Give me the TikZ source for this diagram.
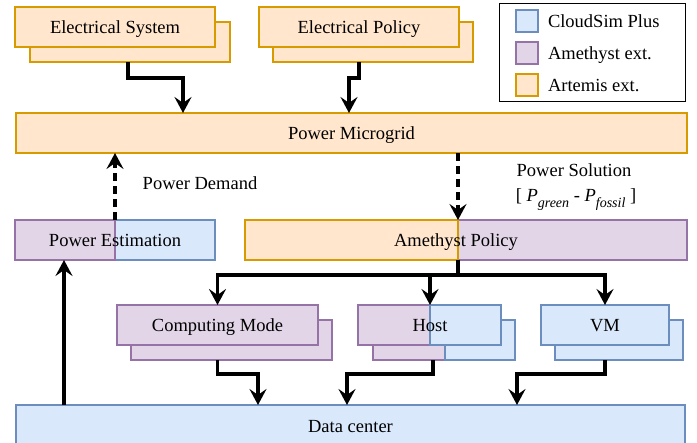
\documentclass[tikz,border=0pt]{standalone}
\usepackage{fontspec}
\setmainfont{Liberation Serif}
\usetikzlibrary{arrows.meta}
\definecolor{bluef}{HTML}{DAE8FC}
\definecolor{blued}{HTML}{6C8EBF}
\definecolor{purf}{HTML}{E1D5E7}
\definecolor{purd}{HTML}{9673A6}
\definecolor{orf}{HTML}{FFE6CC}
\definecolor{ord}{HTML}{D79B00}
\newcommand{\mysub}[1]{\raisebox{-6pt}{\fontsize{14}{16}\selectfont\textit{#1}}}
\begin{document}
\begin{tikzpicture}[x=1pt,y=-1pt,font=\fontsize{18.5}{22}\selectfont,
  box/.style={rectangle,inner sep=0pt,outer sep=0pt,line width=1.2pt,minimum height=40pt,text height=14pt,text depth=0pt},
  bl/.style={box,fill=bluef,draw=blued},
  pu/.style={box,fill=purf,draw=purd},
  orb/.style={box,fill=orf,draw=ord},
  lbl/.style={inner sep=0pt,outer sep=0pt,text height=14pt,text depth=0pt},
  arr/.style={line width=3.2pt,-{Stealth[length=16pt,width=17pt,inset=6pt]}},
  darr/.style={arr,dash pattern=on 8pt off 5pt}]
\useasboundingbox (0,0) rectangle (697,443);
% top boxes
\node[orb,minimum width=200pt] (esb) at (130,42) {};
\node[orb,minimum width=200pt] (es) at (115,27) {Electrical System};
\node[orb,minimum width=200pt] (epb) at (373,42) {};
\node[orb,minimum width=200pt] (ep) at (359,27) {Electrical Policy};
\node[orb,minimum width=671pt] (pm) at (351.5,133) {Power Microgrid};
% legend
\node[draw,line width=1pt,inner sep=0pt,minimum width=186pt,minimum height=98pt] (leg) at (592,53) {};
\node[bl,minimum width=22pt,minimum height=22pt] (sw1) at (527,21) {};
\node[pu,minimum width=22pt,minimum height=22pt] (sw2) at (527,53) {};
\node[orb,minimum width=22pt,minimum height=22pt] (sw3) at (527,85) {};
\node[lbl,anchor=west] (t1) at (548,21) {CloudSim Plus};
\node[lbl,anchor=west] (t2) at (548,53) {Amethyst ext.};
\node[lbl,anchor=west] (t3) at (548,85) {Artemis ext.};
% power estimation
\node[bl,minimum width=100pt] (pe2) at (165,240) {};
\node[pu,minimum width=100pt] (pe1) at (65,240) {};
\node[lbl] (pe) at (115,240) {Power Estimation};
% amethyst policy
\node[pu,minimum width=229pt] (ap2) at (572.5,240) {};
\node[orb,minimum width=213pt] (ap1) at (351.5,240) {};
\node[lbl] (ap) at (456,240) {Amethyst Policy};
% labels
\node[lbl] (pd) at (200,183) {Power Demand};
\node[lbl] (ps) at (574,170) {Power Solution};
\node[lbl,anchor=base] (psf) at (576,202) {[ \textit{P}\mysub{green} - \textit{P}\mysub{fossil} ]};
% computing mode
\node[pu,minimum width=201pt] (cmb) at (231.5,340) {};
\node[pu,minimum width=201pt] (cm) at (217.5,325) {Computing Mode};
% host
\node[pu,minimum width=72pt] (hostbp) at (409,340) {};
\node[bl,minimum width=70pt] (hostbb) at (480,340) {};
\node[pu,minimum width=72pt] (hostp) at (394,325) {};
\node[bl,minimum width=71pt] (hostf) at (465.5,325) {};
\node[lbl] (host) at (430,325) {Host};
% vm
\node[bl,minimum width=128pt] (vmb) at (619,340) {};
\node[bl,minimum width=128pt] (vm) at (605,325) {VM};
% data center
\node[bl,minimum width=669pt,minimum height=42pt] (dc) at (350.5,426) {Data center};
% connectors
\draw[arr] ([xshift=-2pt]esb.south) -- ++(0,16) -| ([xshift=167pt]pm.north west);
\draw[arr] (ep |- epb.south) -- ++(0,16) -| ([xshift=333pt]pm.north west);
\draw[darr] (pe1.north east) -- (pe1.north east |- pm.south);
\draw[darr] (pm.south -| ap1.east) -- (ap1.north east);
\draw[arr] (ap1.south east) -- ++(0,15) -| (cm.north);
\draw[arr] (ap1.south east) -- ++(0,15) -| (hostp.north east);
\draw[arr] (ap1.south east) -- ++(0,15) -| (vm.north);
\coordinate (pein) at ([xshift=-1pt]pe1.south);
\draw[arr] (dc.north -| pein) -- (pein);
\draw[arr] (cm |- cmb.south) -- ++(0,14) -| ([xshift=242pt]dc.north west);
\draw[arr] ([xshift=3pt]hostp.south east |- hostbb.south) -- ++(0,14) -| ([xshift=331pt]dc.north west);
\draw[arr] (vm |- vmb.south) -- ++(0,14) -| ([xshift=501pt]dc.north west);
\end{tikzpicture}
\end{document}
